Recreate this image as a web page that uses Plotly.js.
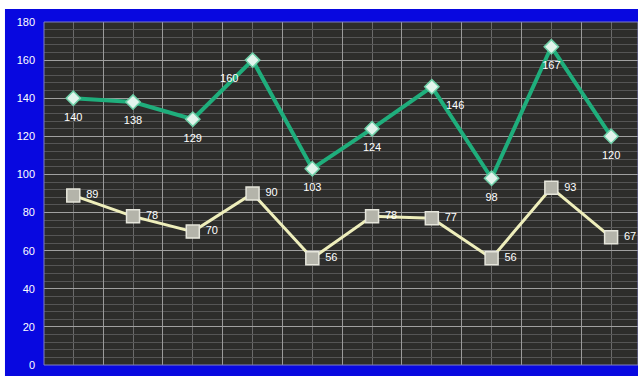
<!DOCTYPE html>
<html>
<head>
<meta charset="utf-8">
<script src="https://cdn.plot.ly/plotly-3.0.1.min.js"></script>
<style>html,body{margin:0;padding:0;background:#fff;}#chart{width:638px;height:376px;}</style>
</head>
<body>
<div id="chart"></div>
<script>
const categories = ['1','2','3','4','5','6','7','8','9','10'];
const seriesA = [140, 138, 129, 160, 103, 124, 146, 98, 167, 120];
const seriesB = [89, 78, 70, 90, 56, 78, 77, 56, 93, 67];
const yTicks = [0, 20, 40, 60, 80, 100, 120, 140, 160, 180];

const xs = categories.map((c, i) => i);
const posA = seriesA.map((v, i) => i === 3 ? 'bottom left' : (i === 6 ? 'bottom right' : 'bottom center'));
const labelFont = {family: 'Liberation Sans, Arial, sans-serif', size: 11, color: '#ffffff'};

const traces = [
  {
    x: xs, y: seriesB, type: 'scatter', mode: 'lines+markers',
    line: {color: '#eeeebb', width: 3},
    marker: {symbol: 'square', size: 13, color: '#b4b4aa', line: {color: '#e6e6dc', width: 1.5}},
    hoverinfo: 'none'
  },
  {
    x: xs, y: seriesB, type: 'scatter', mode: 'markers+text',
    text: seriesB.map(String), textposition: 'middle right', textfont: labelFont,
    marker: {size: 19, color: 'rgba(0,0,0,0)'},
    hoverinfo: 'none', cliponaxis: false
  },
  {
    x: xs, y: seriesA, type: 'scatter', mode: 'lines+markers',
    line: {color: '#1fae7c', width: 4},
    marker: {symbol: 'diamond', size: 11, color: '#e2f4ec', line: {color: '#6fd0a8', width: 1.5}},
    hoverinfo: 'none'
  },
  {
    x: xs, y: seriesA, type: 'scatter', mode: 'markers+text',
    text: seriesA.map(String), textposition: posA, textfont: labelFont,
    marker: {size: 21, color: 'rgba(0,0,0,0)'},
    hoverinfo: 'none', cliponaxis: false
  }
];

const layout = {
  width: 638, height: 376,
  margin: {l: 44, r: 0, t: 22, b: 11, pad: 0},
  paper_bgcolor: '#0808e0',
  plot_bgcolor: '#2d2d2b',
  showlegend: false,
  font: {family: 'Liberation Sans, Arial, sans-serif', color: '#ffffff', size: 11},
  xaxis: {
    type: 'linear', range: [-0.49, 9.45],
    showticklabels: false, zeroline: false, showline: false, ticks: '',
    tick0: 0.5, dtick: 1, showgrid: true, gridcolor: '#9a9a9a', gridwidth: 1,
    minor: {tick0: 0, dtick: 1, showgrid: true, gridcolor: '#6a6a6a', gridwidth: 1, ticks: ''}
  },
  yaxis: {
    range: [0, 180], tickvals: yTicks, ticktext: yTicks.map(String),
    zeroline: false, showline: false, ticks: '',
    showgrid: true, gridcolor: '#a0a0a0', gridwidth: 1,
    ticklabelstandoff: 8,
    tickfont: {family: 'Liberation Sans, Arial, sans-serif', size: 11, color: '#ffffff'},
    minor: {dtick: 4, showgrid: true, gridcolor: '#555555', gridwidth: 1, ticks: ''}
  },
  shapes: [
    {type: 'rect', xref: 'paper', yref: 'paper', x0: -0.2, x1: 1.1, y0: 1.038, y1: 1.2,
     fillcolor: '#ffffff', line: {width: 0}, layer: 'below'},
    {type: 'rect', xref: 'paper', yref: 'paper', x0: -0.2, x1: -0.0657, y0: -0.2, y1: 1.2,
     fillcolor: '#ffffff', line: {width: 0}, layer: 'below'},
    {type: 'rect', xref: 'paper', yref: 'paper', x0: 0, x1: 1, y0: 0, y1: 1,
     fillcolor: 'rgba(0,0,0,0)', line: {color: '#8080c0', width: 1}, layer: 'above'}
  ]
};

Plotly.newPlot('chart', traces, layout, {displayModeBar: false, staticPlot: true});
</script>
</body>
</html>
